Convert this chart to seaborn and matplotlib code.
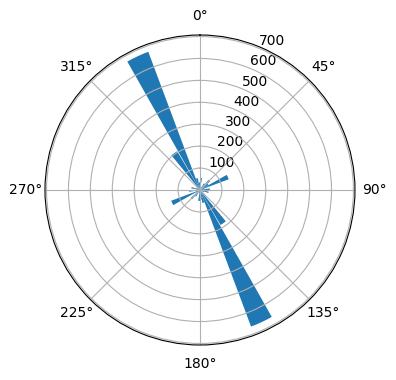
import numpy as np
import matplotlib
matplotlib.use("Agg")
import matplotlib.pyplot as plt
import seaborn as sns

# direction bins (degrees, bin centres) and counts
directions = [5, 15, 25, 35, 45, 55, 65, 75, 85, 95, 105, 115,
              125, 135, 145, 155, 165, 175, 185, 195, 205, 215, 225, 235,
              245, 255, 265, 275, 285, 295, 305, 315, 325, 335, 345, 355]
counts = [55, 10, 15, 35, 60, 45, 140, 20, 45, 15, 40, 20,
          10, 15, 185, 665, 60, 45, 50, 15, 10, 35, 55, 20,
          140, 20, 50, 15, 40, 20, 10, 15, 205, 673, 55, 35]

color = sns.color_palette("tab10")[0]

fig = plt.figure(figsize=(3.96, 3.80), dpi=100)
ax = fig.add_axes([0.1136, 0.0921, 0.7828, 0.8158], projection="polar")
ax.set_theta_zero_location("N")
ax.set_theta_direction(-1)

theta = np.radians(directions)
ax.bar(theta, counts, width=np.radians(9.0), color=color)
ax.set_rlim(0, 707)
ax.set_yticks([100, 200, 300, 400, 500, 600, 700])

fig.savefig("out.png", dpi=100)
